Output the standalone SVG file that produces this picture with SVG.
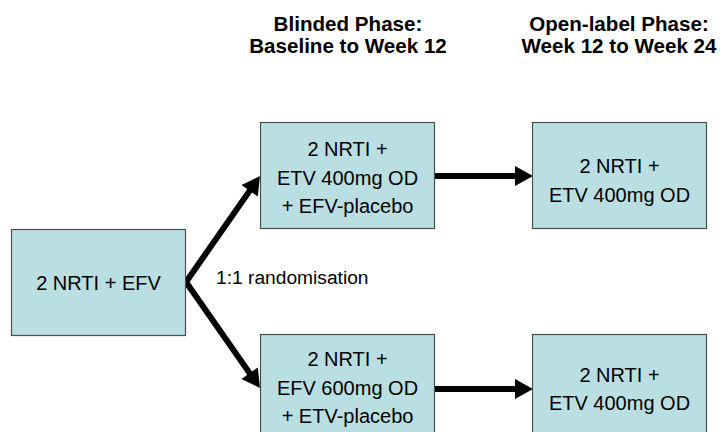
<svg xmlns="http://www.w3.org/2000/svg" width="724" height="432" viewBox="0 0 724 432">
  <style>
    .box { fill: #B9DFE2; stroke: #4d4d4d; stroke-width: 1.2; }
    .lbl { font-family: "Liberation Sans", Arial, sans-serif; font-size: 20px; fill: #000; text-anchor: middle; }
    .hdr { font-family: "Liberation Sans", Arial, sans-serif; font-size: 20.6px; font-weight: bold; fill: #000; text-anchor: middle; }
    .note { font-family: "Liberation Sans", Arial, sans-serif; font-size: 19.2px; fill: #000; }
    .conn { fill: none; stroke: #000; stroke-width: 6; stroke-linejoin: miter; stroke-miterlimit: 10; }
  </style>
  <defs>
    <marker id="head" markerUnits="userSpaceOnUse" markerWidth="22" markerHeight="22" refX="2" refY="0" viewBox="0 -11 22 22" orient="auto-start-reverse" overflow="visible">
      <path d="M0,-10 L18,0 L0,10 z" fill="#000"/>
    </marker>
  </defs>

  <rect width="724" height="432" fill="#fff"/>

  <!-- phase headings -->
  <g id="heading-blinded">
    <text class="hdr" x="348" y="31">Blinded Phase:</text>
    <text class="hdr" x="348" y="53">Baseline to Week 12</text>
  </g>
  <g id="heading-open">
    <text class="hdr" x="619" y="31">Open-label Phase:</text>
    <text class="hdr" x="619" y="53">Week 12 to Week 24</text>
  </g>

  <!-- connectors -->
  <g id="connectors">
    <path class="conn" d="M250.8,189.1 L186,282 L250.8,374.9" marker-start="url(#head)" marker-end="url(#head)"/>
    <path class="conn" d="M434,176 L517,176" marker-end="url(#head)"/>
    <path class="conn" d="M434,389 L517,389" marker-end="url(#head)"/>
    <text class="note" x="216" y="284">1:1 randomisation</text>
  </g>

  <!-- nodes -->
  <g id="start">
    <rect class="box" x="11.5" y="229.5" width="174" height="106"/>
    <text class="lbl" x="98.5" y="290">2 NRTI + EFV</text>
  </g>

  <g id="arm-etv-blinded">
    <rect class="box" x="260.5" y="122.5" width="174" height="106"/>
    <text class="lbl" x="347.5" y="156">2 NRTI +</text>
    <text class="lbl" x="347.5" y="185">ETV 400mg OD</text>
    <text class="lbl" x="347.5" y="213">+ EFV-placebo</text>
  </g>

  <g id="arm-etv-open">
    <rect class="box" x="532.5" y="122.5" width="174" height="106"/>
    <text class="lbl" x="619.5" y="173">2 NRTI +</text>
    <text class="lbl" x="619.5" y="201.5">ETV 400mg OD</text>
  </g>

  <g id="arm-efv-blinded">
    <rect class="box" x="260.5" y="334.5" width="174" height="106"/>
    <text class="lbl" x="347.5" y="366">2 NRTI +</text>
    <text class="lbl" x="347.5" y="395">EFV 600mg OD</text>
    <text class="lbl" x="347.5" y="423">+ ETV-placebo</text>
  </g>

  <g id="arm-efv-open">
    <rect class="box" x="532.5" y="334.5" width="174" height="106"/>
    <text class="lbl" x="619.5" y="382">2 NRTI +</text>
    <text class="lbl" x="619.5" y="410">ETV 400mg OD</text>
  </g>
</svg>
